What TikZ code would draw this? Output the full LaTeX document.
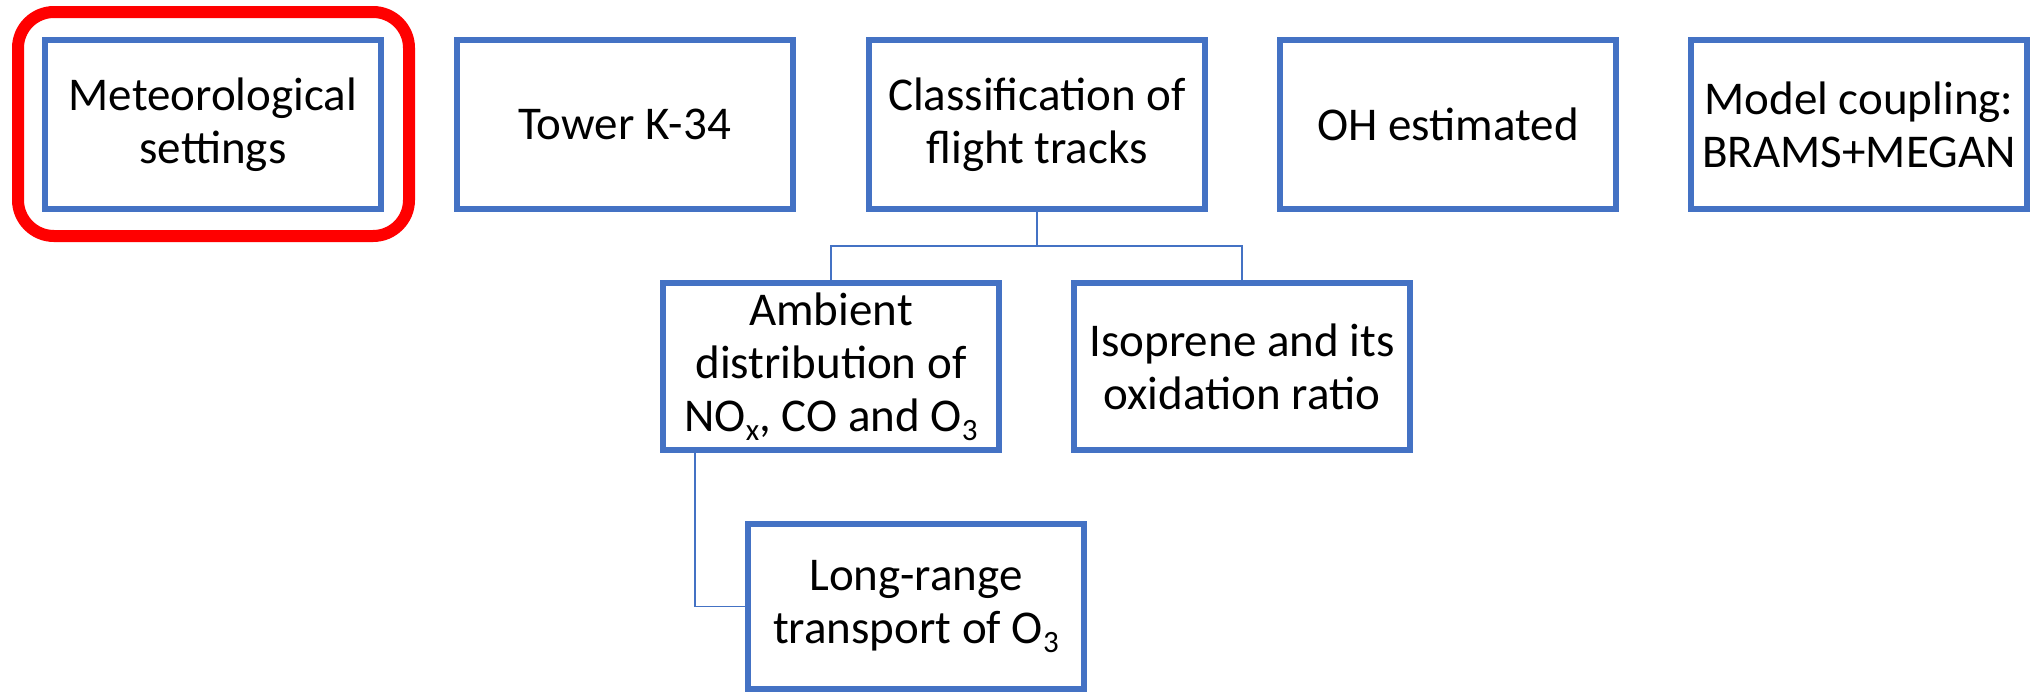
\documentclass[tikz,border=0pt]{standalone}
\usepackage{fontspec}
\setmainfont{Carlito}
\definecolor{obl}{HTML}{4472C4}
\definecolor{ored}{HTML}{FF0000}
\newcommand\mysub[1]{\raisebox{-9pt}{\fontsize{31}{31}\selectfont #1}}
\begin{document}
\begin{tikzpicture}[x=1pt,y=-1pt,
  box/.style={draw=obl,line width=6pt,fill=white,minimum width=336pt,minimum height=169pt,inner sep=0pt,align=center,font=\fontsize{47}{53}\selectfont},
  link/.style={draw=obl,line width=1.6pt},
  hilite/.style={draw=ored,line width=12pt,rounded corners=36pt,minimum width=391pt,minimum height=224pt,inner sep=0pt}]
\useasboundingbox[fill=white] (0,0) rectangle (2033,694);
\node[hilite] (hl) at (213.5,124) {};
\node[box] (met) at (213,124.5) {Meteorological\\settings};
\node[box] (tow) at (624.5,124.5) {Tower K-34};
\node[box] (cls) at (1037,124.5) {Classification of\\flight tracks};
\node[box] (oh)  at (1448,124.5) {OH estimated};
\node[box] (mod) at (1859,124.5) {Model coupling:\\BRAMS+MEGAN};
\node[box,minimum height=167pt] (amb) at (831,366.5) {Ambient\\distribution of\\NO\mysub{x}, CO and O\mysub{3}};
\node[box,minimum height=167pt] (iso) at (1242,366.5) {Isoprene and its\\oxidation ratio};
\node[box,minimum height=165pt] (lr)  at (916,606.5) {Long-range\\transport of O\mysub{3}};
\coordinate (bus) at (1037,246);
\draw[link] (cls.south) -- (bus) -| (amb.north);
\draw[link] (bus) -| (iso.north);
\draw[link] ([xshift=35pt]amb.south west) |- (lr.west);
\end{tikzpicture}
\end{document}
